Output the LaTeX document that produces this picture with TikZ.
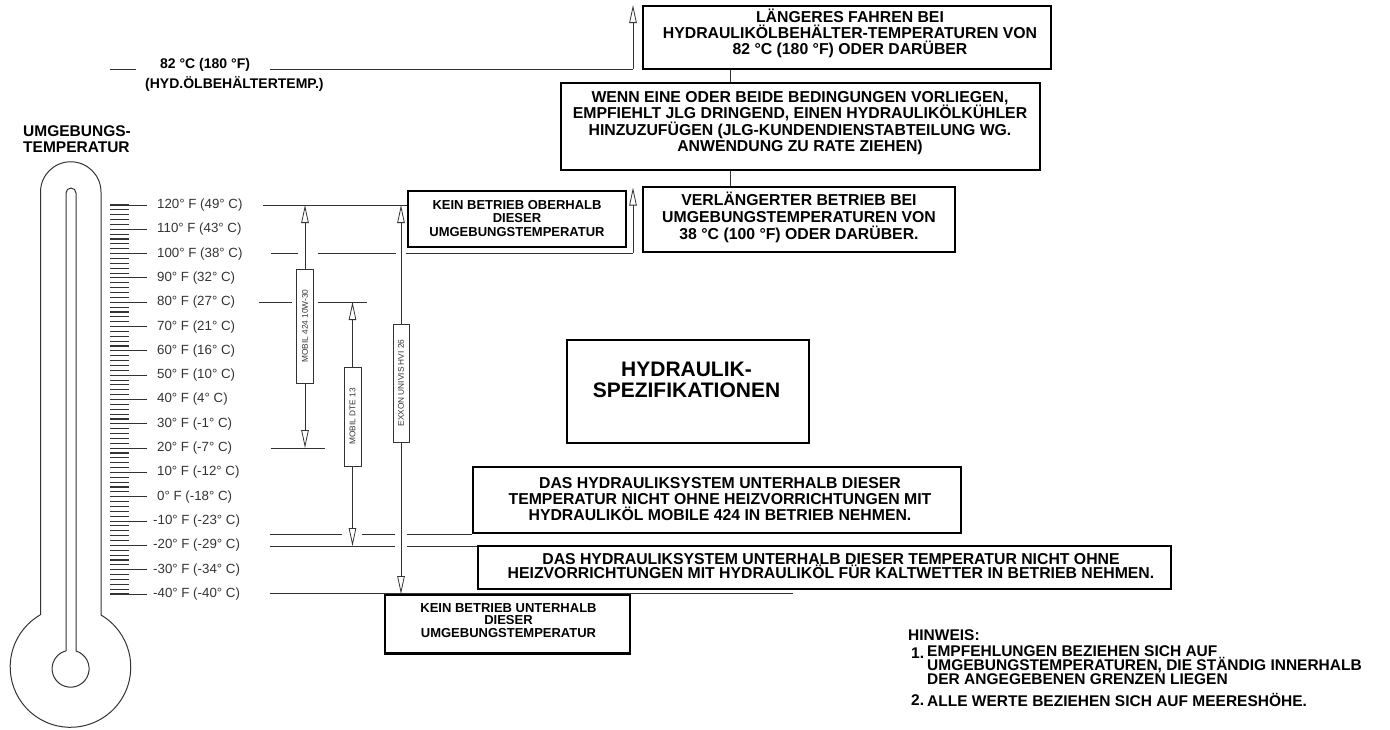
\documentclass[tikz,border=0pt]{standalone}
\usepackage{fontspec}
\setmainfont{Liberation Sans}
\usetikzlibrary{arrows.meta}
\definecolor{ln}{HTML}{333333}
\begin{document}
\begin{tikzpicture}[x=1pt,y=-1pt,
  bx/.style={draw=black, line width=2.2pt, inner sep=0pt},
  bt/.style={inner sep=0pt, align=center, font=\bfseries\fontsize{15.8}{16.5}\selectfont},
  st/.style={inner sep=0pt, align=center, font=\bfseries\fontsize{13}{13.5}\selectfont},
  tl/.style={inner sep=0pt, anchor=west, text=ln, font=\fontsize{13.3}{13}\selectfont},
  rl/.style={draw=ln, line width=0.9pt},
  th/.style={draw=ln, line width=1pt},
  oil/.style={draw=ln, line width=0.9pt, fill=white, rotate=90, inner sep=0pt, minimum height=17pt, text=ln, font=\fontsize{8.3}{8.3}\selectfont},
  arr/.style={draw=ln, line width=0.8pt, -{Triangle[open, length=18pt, width=7.5pt]}},
  nt/.style={inner sep=0pt, align=left, font=\bfseries\fontsize{15.5}{12}\selectfont},
]
\useasboundingbox (0,0) rectangle (1390,729);

% ---------- thermometer ----------
\draw[th] (40.5,615) -- (40.5,192) arc[start angle=180, end angle=360, radius=30.25] -- (101,615) arc[start angle=-59.6, end angle=239.6, radius=60.3];
\draw[th] (66,651) -- (66,193) arc[start angle=180, end angle=360, radius=5] -- (76,651) arc[start angle=-73, end angle=256, radius=18.5];

\foreach \k in {0,...,80} \draw[ln, line width=1.1pt] (110,205+\k*4.8625) -- (129,205+\k*4.8625);
\foreach \k in {0,...,16} \draw[ln, line width=0.9pt] (110,205+\k*24.3125) -- (147,205+\k*24.3125);

\foreach \xx/\lab [count=\i from 0] in {157/{120° F (49° C)},157/{110° F (43° C)},157/{100° F (38° C)},157/{90° F (32° C)},157/{80° F (27° C)},157/{70° F (21° C)},157/{60° F (16° C)},157/{50° F (10° C)},157/{40° F (4° C)},157/{30° F (-1° C)},157/{20° F (-7° C)},157/{10° F (-12° C)},157/{0° F (-18° C)},153/{-10° F (-23° C)},153/{-20° F (-29° C)},153/{-30° F (-34° C)},153/{-40° F (-40° C)}}
  \node[tl] (t\i) at (\xx,205+\i*24.3125) {\lab};

\node[inner sep=0pt, anchor=west, align=left, font=\bfseries\fontsize{15.5}{16}\selectfont] (umg) at (23,139) {UMGEBUNGS-\\TEMPERATUR};

% ---------- 82 C line ----------
\draw[rl] (110,69) -- (136,69);
\node[inner sep=0pt, anchor=west, font=\bfseries\fontsize{14}{14}\selectfont] (t82) at (160,65) {82 °C (180 °F)};
\node[inner sep=0pt, anchor=west, font=\bfseries\fontsize{14}{14}\selectfont] (thyd) at (145,84) {(HYD.ÖLBEHÄLTERTEMP.)};
\coordinate (dS) at (633,69);
\coordinate (dT) at (633,5);
\draw[rl] (t82.east |- dS) ++(20,0) -- (dS);
\draw[arr] (dS) -- (dT);

% ---------- boxes ----------
\node[bx, minimum width=408pt, minimum height=63pt] (top) at (847,37.5) {};
\node[bt, font=\bfseries\fontsize{15.8}{16}\selectfont] (ttop) at (850,33.5) {LÄNGERES FAHREN BEI\\HYDRAULIKÖLBEHÄLTER-TEMPERATUREN VON\\82 °C (180 °F) ODER DARÜBER};

\node[bx, minimum width=479pt, minimum height=87pt] (wenn) at (800.5,126.5) {};
\node[bt] (twenn) at (800,123) {WENN EINE ODER BEIDE BEDINGUNGEN VORLIEGEN,\\EMPFIEHLT JLG DRINGEND, EINEN HYDRAULIKÖLKÜHLER\\HINZUZUFÜGEN (JLG-KUNDENDIENSTABTEILUNG WG.\\ANWENDUNG ZU RATE ZIEHEN)};

\node[bx, minimum width=312pt, minimum height=65pt] (verl) at (799,219.5) {};
\node[bt, font=\bfseries\fontsize{15.8}{17}\selectfont] (tverl) at (799,217) {VERLÄNGERTER BETRIEB BEI\\UMGEBUNGSTEMPERATUREN VON\\38 °C (100 °F) ODER DARÜBER.};

\coordinate (cx) at (730,0);
\draw[rl] (cx |- top.south) -- (cx |- wenn.north);
\draw[rl] (cx |- wenn.south) -- (cx |- verl.north);

\node[bx, minimum width=218pt, minimum height=56pt] (keinO) at (517,219) {};
\node[st] (tkeinO) at (517,218.5) {KEIN BETRIEB OBERHALB\\DIESER\\UMGEBUNGSTEMPERATUR};

\node[bx, minimum width=242pt, minimum height=103pt] (hyd) at (688,391.5) {};
\node[inner sep=0pt, align=center, font=\bfseries\fontsize{21}{21}\selectfont] (thyds) at (686.5,380) {HYDRAULIK-\\SPEZIFIKATIONEN};

\node[bx, minimum width=488pt, minimum height=66pt] (das1) at (717,500) {};
\node[bt, font=\bfseries\fontsize{15.8}{16}\selectfont] (tdas1) at (720,499) {DAS HYDRAULIKSYSTEM UNTERHALB DIESER\\TEMPERATUR NICHT OHNE HEIZVORRICHTUNGEN MIT\\HYDRAULIKÖL MOBILE 424 IN BETRIEB NEHMEN.};

\node[bx, minimum width=693pt, minimum height=43pt] (das2) at (824.5,567.5) {};
\node[bt, font=\bfseries\fontsize{15.8}{14.5}\selectfont] (tdas2) at (831,566) {DAS HYDRAULIKSYSTEM UNTERHALB DIESER TEMPERATUR NICHT OHNE\\HEIZVORRICHTUNGEN MIT HYDRAULIKÖL FÜR KALTWETTER IN BETRIEB NEHMEN.};

\node[bx, minimum width=245pt, minimum height=59pt] (keinU) at (507.5,624) {};
\node[st, font=\bfseries\fontsize{13}{12.5}\selectfont] (tkeinU) at (508.5,620.5) {KEIN BETRIEB UNTERHALB\\DIESER\\UMGEBUNGSTEMPERATUR};

% ---------- reference lines ----------
\draw[rl] (263,205) -- (keinO.west |- 0,205);
\draw[rl] (271,253) -- (298,253);
\draw[rl] (318,253) -- (396,253);
\draw[rl] (406,253) -- (633,253);
\draw[rl] (259,302) -- (292,302);
\draw[rl] (318,302) -- (367,302);
\draw[rl] (271,448) -- (325,448);
\draw[rl] (270,534) -- (342,534);
\draw[rl] (362,534) -- (395,534);
\draw[rl] (407,534) -- (das1.west |- 0,534);
\draw[rl] (270,546) -- (395,546);
\draw[rl] (407,546) -- (das2.west |- 0,546);
\draw[rl] (270,593) -- (793,593);

% ---------- oil ranges ----------
\node[oil, minimum width=114pt] (mA) at (305,326) {MOBIL 424 10W-30};
\node[oil, minimum width=99pt] (mB) at (352.5,416.5) {MOBIL DTE 13};
\node[oil, minimum width=118pt, minimum height=16pt] (mC) at (401,383) {EXXON UNIVIS HVI 26};
\coordinate (aT) at (305,205);
\coordinate (aB) at (305,448);
\coordinate (bT) at (352.5,302);
\coordinate (bB) at (352.5,546);
\coordinate (cT) at (401,205);
\coordinate (cB) at (401,594);
\draw[arr] (mA.east) -- (aT);
\draw[arr] (mA.west) -- (aB);
\draw[arr] (mB.east) -- (bT);
\draw[arr] (mB.west) -- (bB);
\draw[arr] (mC.east) -- (cT);
\draw[arr] (mC.west) -- (cB);

\coordinate (eS) at (633,253);
\coordinate (eT) at (633,187.5);
\draw[arr] (eS) -- (eT);

% ---------- notes ----------
\node[inner sep=0pt, anchor=west, font=\bfseries\fontsize{15.5}{12}\selectfont] (hinw) at (908,635) {HINWEIS:};
\node[inner sep=0pt, anchor=west, font=\bfseries\fontsize{15.5}{12}\selectfont] (n1) at (911,653) {1.};
\node[nt, anchor=west] (n1t) at (927,665) {EMPFEHLUNGEN BEZIEHEN SICH AUF\\UMGEBUNGSTEMPERATUREN, DIE STÄNDIG INNERHALB\\DER ANGEGEBENEN GRENZEN LIEGEN};
\node[inner sep=0pt, anchor=west, font=\bfseries\fontsize{15.5}{12}\selectfont] (n2) at (911,700) {2.};
\node[nt, anchor=west] (n2t) at (927,700) {ALLE WERTE BEZIEHEN SICH AUF MEERESHÖHE.};
\end{tikzpicture}
\end{document}
